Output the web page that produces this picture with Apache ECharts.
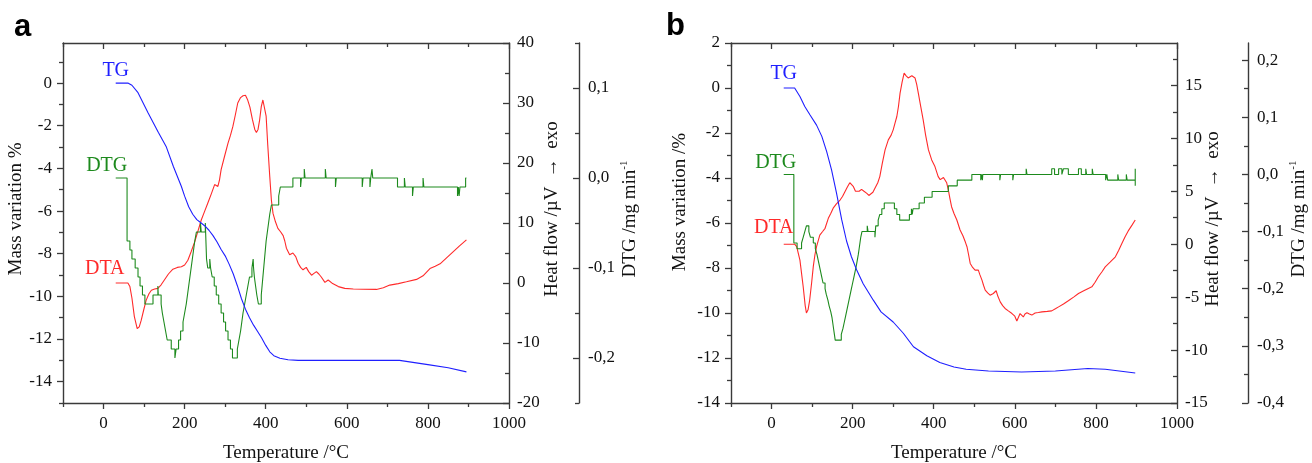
<!DOCTYPE html>
<html><head><meta charset="utf-8">
<script src="https://cdn.jsdelivr.net/npm/echarts@6/dist/echarts.min.js"></script>
<style>html,body{margin:0;padding:0;background:#fff}#c{width:1312px;height:463px}</style>
</head><body><div id="c"></div>
<script>
// ---------------- data (Temperature °C, value) ----------------
const tgA = [[30,0],[60,0],[70,-0.1],[85,-0.45],[110,-1.4],[135,-2.3],[155,-3.0],[172,-3.9],[192,-4.85],[200,-5.3],[210,-5.8],[220,-6.15],[230,-6.4],[240,-6.55],[250,-6.7],[260,-6.9],[270,-7.15],[280,-7.45],[290,-7.8],[300,-8.1],[310,-8.5],[320,-8.95],[330,-9.5],[340,-10.1],[350,-10.6],[360,-11.0],[370,-11.35],[380,-11.65],[390,-11.95],[400,-12.3],[410,-12.6],[420,-12.78],[435,-12.9],[455,-12.97],[480,-13.0],[600,-13.0],[730,-13.0],[800,-13.2],[850,-13.35],[895,-13.54]];
const dtaA = [[30,0],[60,0],[65,-0.6],[70,-2.5],[76,-5.6],[83,-7.6],[88,-7.3],[93,-6.2],[99,-4.5],[105,-2.9],[112,-1.8],[118,-1.2],[126,-1.0],[134,-0.9],[142,-0.3],[150,0.5],[160,1.5],[171,2.3],[182,2.6],[192,2.7],[200,3.0],[208,3.8],[216,5.2],[225,6.9],[233,8.7],[241,10.5],[249,11.9],[257,13.3],[266,14.9],[274,16.4],[278,16.6],[282,16.1],[286,17.2],[290,18.9],[298,21.0],[307,23.3],[313,24.6],[319,26.1],[325,28.0],[331,30.0],[338,30.9],[344,31.2],[350,31.3],[355,30.6],[361,29.3],[367,27.3],[373,25.6],[377,25.1],[381,25.6],[385,27.2],[389,29.4],[393,30.5],[397,30.2],[401,27.8],[405,23.0],[410,17.7],[414,13.8],[418,11.6],[424,10.2],[430,9.1],[437,8.5],[443,7.9],[447,7.0],[451,5.8],[459,4.7],[467,5.0],[474,4.4],[480,3.3],[486,2.6],[492,2.2],[500,2.6],[506,1.9],[513,1.3],[519,1.6],[525,1.9],[531,1.5],[537,1.0],[546,0.1],[554,0.5],[565,-0.1],[579,-0.6],[595,-0.9],[616,-1.0],[640,-1.05],[673,-1.07],[690,-0.8],[706,-0.35],[727,-0.1],[747,0.2],[772,0.6],[788,1.2],[805,2.4],[818,2.8],[830,3.2],[846,4.2],[862,5.2],[878,6.2],[895,7.2]];
const dtgA = [[30,0],[58,-0.07],[65,-0.08],[70,-0.09],[78,-0.10],[85,-0.11],[90,-0.12],[96,-0.13],[102,-0.14],[122,-0.13],[134,-0.12],[135,-0.13],[142,-0.14],[145,-0.15],[149,-0.16],[153,-0.17],[157,-0.18],[167,-0.19],[176,-0.20],[179,-0.19],[185,-0.18],[190,-0.17],[196,-0.16],[200,-0.15],[204,-0.14],[207,-0.13],[210,-0.12],[213,-0.11],[216,-0.10],[219,-0.09],[222,-0.08],[225,-0.07],[229,-0.06],[239,-0.05],[241,-0.06],[251,-0.05],[254,-0.09],[257,-0.10],[262,-0.09],[264,-0.10],[268,-0.11],[273,-0.12],[278,-0.13],[284,-0.14],[290,-0.15],[296,-0.16],[301,-0.17],[307,-0.18],[313,-0.19],[318,-0.20],[330,-0.19],[334,-0.18],[338,-0.17],[341,-0.16],[344,-0.15],[348,-0.14],[352,-0.13],[356,-0.12],[360,-0.11],[366,-0.10],[369,-0.09],[370,-0.10],[372,-0.11],[375,-0.12],[378,-0.13],[382,-0.14],[389,-0.13],[391,-0.12],[393,-0.11],[395,-0.10],[397,-0.09],[399,-0.08],[401,-0.07],[404,-0.06],[407,-0.05],[410,-0.04],[414,-0.03],[432,-0.02],[436,-0.01],[467,0],[486,-0.01],[488,0],[495,0.01],[497,0],[547,0.01],[549,0],[572,-0.01],[574,0],[638,-0.01],[640,0],[657,-0.01],[659,0],[662,0.01],[664,0],[725,-0.01],[742,0],[744,-0.01],[762,-0.02],[764,-0.01],[788,0],[790,-0.01],[873,-0.02],[875,-0.01],[877,-0.02],[879,-0.01],[893,0],[895,0]];

const tgB = [[30,0],[57,0],[70,-0.38],[82,-0.82],[95,-1.2],[111,-1.65],[124,-2.15],[136,-2.83],[148,-3.64],[160,-4.65],[173,-5.85],[185,-6.8],[197,-7.5],[210,-8.09],[226,-8.7],[251,-9.43],[270,-9.95],[300,-10.4],[325,-10.9],[350,-11.5],[383,-11.9],[415,-12.2],[450,-12.4],[480,-12.5],[535,-12.58],[617,-12.62],[700,-12.58],[780,-12.47],[823,-12.5],[897,-12.67]];
const dtaB = [[30,0],[57,0],[62,-0.24],[70,-1.5],[78,-4.0],[83,-5.8],[86,-6.5],[90,-6.2],[94,-5.3],[99,-3.6],[103,-2.1],[107,-1.0],[111,-0.24],[119,0.86],[126,1.2],[132,1.5],[140,2.44],[146,2.9],[152,3.4],[160,3.8],[169,4.17],[175,4.5],[181,4.96],[187,5.4],[193,5.81],[197,5.7],[202,5.43],[207,5.0],[211,4.87],[216,5.0],[222,5.18],[228,5.0],[235,4.8],[240,4.6],[244,4.55],[250,4.9],[255,5.28],[262,5.8],[267,6.38],[273,7.6],[280,8.9],[288,9.85],[295,10.3],[300,10.8],[305,11.5],[309,12.06],[313,13.0],[317,14.27],[322,15.3],[327,16.16],[332,15.9],[337,15.7],[341,15.85],[346,15.9],[350,15.8],[354,15.69],[358,15.1],[362,14.27],[368,13.0],[374,11.74],[380,10.3],[387,8.9],[395,7.96],[403,7.33],[411,6.38],[416,6.1],[420,6.07],[424,6.3],[428,6.38],[432,5.8],[436,5.12],[440,4.3],[444,3.54],[450,2.9],[457,2.28],[465,1.34],[472,0.8],[478,0.2],[482,-0.24],[486,-1.0],[490,-1.82],[496,-2.2],[502,-2.45],[510,-2.45],[514,-2.9],[519,-3.4],[523,-3.9],[527,-4.34],[533,-4.6],[539,-4.82],[547,-4.66],[554,-4.4],[558,-4.9],[564,-5.45],[570,-5.8],[576,-6.07],[584,-6.3],[593,-6.55],[600,-6.8],[605,-7.25],[609,-6.9],[613,-6.55],[617,-6.7],[621,-6.87],[625,-6.6],[630,-6.48],[636,-6.6],[642,-6.7],[650,-6.5],[658,-6.45],[667,-6.39],[680,-6.35],[691,-6.3],[700,-6.1],[708,-5.92],[720,-5.65],[732,-5.35],[745,-5.0],[757,-4.66],[770,-4.4],[780,-4.2],[790,-4.03],[798,-3.6],[806,-3.08],[815,-2.6],[823,-2.14],[835,-1.7],[848,-1.19],[856,-0.6],[864,0.07],[872,0.7],[881,1.33],[889,1.8],[897,2.28]];
const dtgB = [[30,0],[55,-0.12],[63,-0.13],[74,-0.12],[78,-0.11],[82,-0.10],[86,-0.09],[92,-0.10],[96,-0.11],[103,-0.12],[108,-0.13],[112,-0.14],[115,-0.15],[118,-0.16],[121,-0.17],[124,-0.18],[127,-0.19],[132,-0.20],[135,-0.21],[139,-0.22],[142,-0.23],[146,-0.24],[149,-0.25],[151,-0.26],[153,-0.27],[155,-0.28],[157,-0.29],[172,-0.28],[176,-0.27],[179,-0.26],[182,-0.25],[185,-0.24],[188,-0.23],[191,-0.22],[194,-0.21],[197,-0.20],[200,-0.19],[203,-0.18],[206,-0.17],[209,-0.16],[211.5,-0.15],[214,-0.14],[216,-0.13],[218,-0.12],[220,-0.11],[223,-0.10],[236,-0.09],[238,-0.10],[255,-0.11],[257,-0.09],[263,-0.08],[267,-0.07],[272,-0.06],[278,-0.05],[303,-0.06],[309,-0.07],[316,-0.08],[340,-0.07],[345,-0.06],[347,-0.07],[349,-0.06],[364,-0.05],[377,-0.04],[396,-0.03],[436,-0.02],[458,-0.01],[494,0],[516,-0.01],[518,0],[520,-0.01],[521,0],[563,-0.01],[565,0],[595,-0.01],[597,0],[628,0.01],[630,0],[691,0.01],[698,0],[708,0.01],[716,0],[720,0.01],[732,0],[757,0.01],[764,0],[775,0.01],[777,0],[791,0.01],[793,0],[824,-0.01],[827,0],[829,-0.01],[854,0],[856,-0.01],[875,0],[877,-0.01],[897,0.01],[897,-0.02]];

// ---------------- ticks ----------------
const xMajor = [0,200,400,600,800,1000];
const xMinor = [-100,100,300,500,700,900];
const tgMajorA = [-14,-12,-10,-8,-6,-4,-2,0];
const tgMinorA = [-15,-13,-11,-9,-7,-5,-3,-1,1];
const hfMajorA = [-20,-10,0,10,20,30,40];
const hfMinorA = [-15,-5,5,15,25,35];
const dtgMajorA = [-0.2,-0.1,0,0.1];
const dtgMinorA = [-0.25,-0.15,-0.05,0.05,0.15];
const tgMajorB = [-14,-12,-10,-8,-6,-4,-2,0,2];
const tgMinorB = [-13,-11,-9,-7,-5,-3,-1,1];
const hfMajorB = [-15,-10,-5,0,5,10,15];
const hfMinorB = [-12.5,-7.5,-2.5,2.5,7.5,12.5,17.5];
const dtgMajorB = [-0.4,-0.3,-0.2,-0.1,0,0.1,0.2];
const dtgMinorB = [-0.35,-0.25,-0.15,-0.05,0.05,0.15];

// ---------------- styling ----------------
const SERIF = '"Liberation Serif","Times New Roman",serif';
const AX = '#3a3a3a';
const TXT = '#111';
const C_TG = '#1f1fff', C_DTA = '#ff2a2a', C_DTG = '#1d8a1d';

const G = [
  {left:63, top:43, width:446, height:360, containLabel:false, outerBoundsMode:'none'},
  {left:731, top:43, width:446, height:360, containLabel:false, outerBoundsMode:'none'}
];

function commaFmt(v){ if (Math.abs(v) < 1e-9) return '0,0'; return v.toFixed(1).replace('.', ','); }

function ax(o){
  return {
    gridIndex:o.gi, type:'value', position:o.pos, min:o.min, max:o.max, offset:o.offset||0,
    splitLine:{show:false},
    axisLine:{show:!!o.line, onZero:false, lineStyle:{color:AX, width:1.4}},
    axisTick:{show:true, inside:!!o.inside, length:o.len, customValues:o.ticks, lineStyle:{color:AX, width:1.3}},
    axisLabel: o.labels ? {show:true, customValues:o.labels, margin:o.margin, color:TXT, fontSize:17, fontFamily:SERIF, formatter:o.fmt || (v=>String(v))} : {show:false},
    name:o.name||'', nameLocation:'middle', nameGap:o.nameGap||0,
    nameTextStyle:{fontSize:19, fontFamily:SERIF, color:TXT}
  };
}

const xAxis = [], yAxis = [];
[0,1].forEach(gi=>{
  xAxis.push(ax({gi, pos:'bottom', min:-100, max:1000, line:true, ticks:xMajor, len:6, labels:xMajor, margin:12, name:'Temperature /°C', nameGap:41}));
  xAxis.push(ax({gi, pos:'bottom', min:-100, max:1000, ticks:xMinor, len:4}));
  xAxis.push(ax({gi, pos:'top', min:-100, max:1000, line:true, ticks:xMajor, len:6, inside:true}));
  xAxis.push(ax({gi, pos:'top', min:-100, max:1000, ticks:xMinor, len:4, inside:true}));
});
// grid 0 (a)
yAxis.push(ax({gi:0, pos:'left', min:-15, max:1.88, line:true, ticks:tgMajorA, len:6, labels:tgMajorA, margin:11}));
yAxis.push(ax({gi:0, pos:'left', min:-15, max:1.88, ticks:tgMinorA, len:4}));
yAxis.push(ax({gi:0, pos:'right', min:-20, max:40, line:true, ticks:hfMajorA, len:6, inside:true, labels:hfMajorA, margin:8}));
yAxis.push(ax({gi:0, pos:'right', min:-20, max:40, ticks:hfMinorA, len:4, inside:true}));
yAxis.push(ax({gi:0, pos:'right', offset:70, min:-0.25, max:0.15, line:true, ticks:dtgMajorA, len:6, inside:true, labels:dtgMajorA, margin:9, fmt:commaFmt}));
yAxis.push(ax({gi:0, pos:'right', offset:70, min:-0.25, max:0.15, ticks:dtgMinorA, len:4, inside:true}));
// grid 1 (b)
yAxis.push(ax({gi:1, pos:'left', min:-14, max:2, line:true, ticks:tgMajorB, len:6, labels:tgMajorB, margin:11}));
yAxis.push(ax({gi:1, pos:'left', min:-14, max:2, ticks:tgMinorB, len:4}));
yAxis.push(ax({gi:1, pos:'right', min:-15, max:19, line:true, ticks:hfMajorB, len:6, inside:true, labels:hfMajorB, margin:8}));
yAxis.push(ax({gi:1, pos:'right', min:-15, max:19, ticks:hfMinorB, len:4, inside:true}));
yAxis.push(ax({gi:1, pos:'right', offset:71, min:-0.4, max:0.23, line:true, ticks:dtgMajorB, len:6, inside:true, labels:dtgMajorB, margin:9, fmt:commaFmt}));
yAxis.push(ax({gi:1, pos:'right', offset:71, min:-0.4, max:0.23, ticks:dtgMinorB, len:4, inside:true}));

function withLabel(arr, text, color, off, dist){
  return arr.map((p,i)=> i===0 ? {value:p, label:{show:true, formatter:text, position:'top', distance:dist, offset:off, color:color, fontSize:20, fontFamily:SERIF}} : p);
}
function ser(data, xi, yi, color, step, text, off, dist){
  const s = {type:'line', xAxisIndex:xi, yAxisIndex:yi, data:withLabel(data, text, color, off, dist),
    symbol:'circle', symbolSize:0, showSymbol:true, silent:true, animation:false,
    lineStyle:{color:color, width:1.1}, itemStyle:{color:color}, label:{show:false}, z:3};
  if (step) s.step = 'end';
  return s;
}
const series = [
  ser(dtaA, 0, 2, C_DTA, false, 'DTA', [-11,-2], 2),
  ser(dtgA, 0, 4, C_DTG, true, 'DTG', [-9,0], 2),
  ser(tgA, 0, 0, C_TG, false, 'TG', [0,0], 2),
  ser(dtaB, 4, 8, C_DTA, false, 'DTA', [-10,-4], 2),
  ser(dtgB, 4, 10, C_DTG, true, 'DTG', [-8,0], 2),
  ser(tgB, 4, 6, C_TG, false, 'TG', [0,-2], 2)
];

function vtext(x, y, text){
  return {type:'text', x:x, y:y, rotation:Math.PI/2,
    style:{text:text, font:'19px ' + SERIF, fill:TXT, align:'center', verticalAlign:'middle'}};
}
function dtgTitle(x, y){
  return {type:'text', x:x, y:y, rotation:Math.PI/2,
    style:{text:'DTG /mg min{s|-1}', font:'19px ' + SERIF, fill:TXT, align:'center', verticalAlign:'middle',
      rich:{s:{fontSize:11, fontFamily:SERIF, fill:TXT, verticalAlign:'top', lineHeight:22}}}};
}
const graphic = [
  {type:'text', x:14, y:27, style:{text:'a', font:'bold 31px "Liberation Sans",Arial,sans-serif', fill:'#000', align:'left', verticalAlign:'middle'}},
  {type:'text', x:666, y:26, style:{text:'b', font:'bold 31px "Liberation Sans",Arial,sans-serif', fill:'#000', align:'left', verticalAlign:'middle'}},
  vtext(16, 209, 'Mass variation %'),
  vtext(680, 202, 'Mass variation /%'),
  vtext(552, 209, 'Heat flow /µV  \u2192  exo'),
  vtext(1213, 219, 'Heat flow /µV  \u2192  exo'),
  dtgTitle(630, 219),
  dtgTitle(1299, 219)
];

const chart = echarts.init(document.getElementById('c'), null, {renderer:'canvas'});
chart.setOption({
  animation:false,
  backgroundColor:'#fff',
  grid:G,
  xAxis:xAxis,
  yAxis:yAxis,
  series:series,
  graphic:graphic
});
</script>
</body></html>
